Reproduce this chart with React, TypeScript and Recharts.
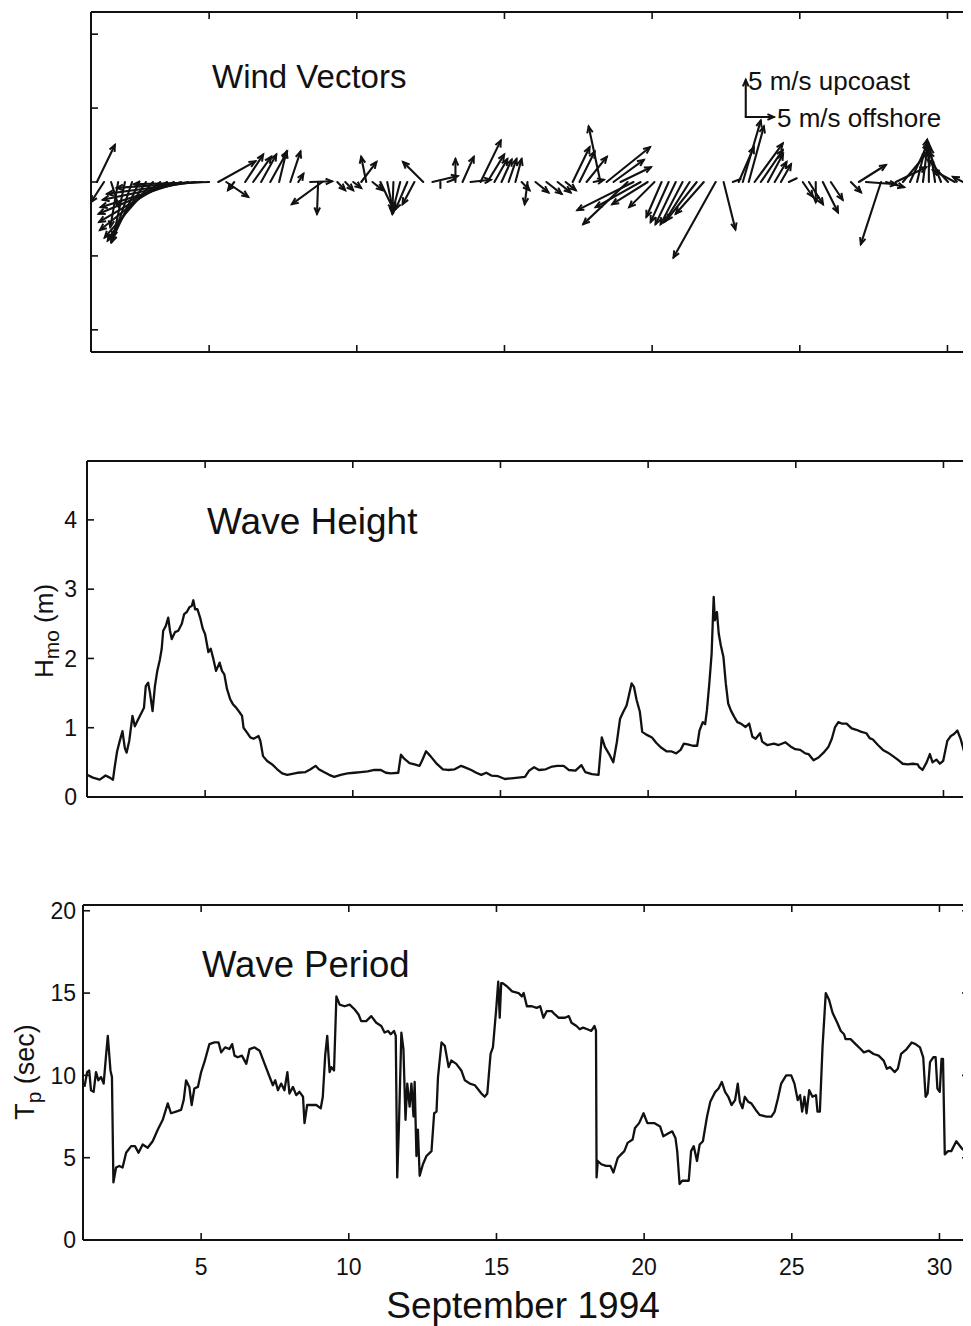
import React from 'react';
import { LineChart, Line, XAxis, YAxis, ReferenceLine } from 'recharts';

// ---------- data ----------
const dayTicks = [5, 10, 15, 20, 25, 30];
const windTicks = [-20, -10, 0, 10, 20];
const heightTicks = [0, 1, 2, 3, 4];
const periodTicks = [0, 5, 10, 15, 20];

// wind vectors: time (day of Sept 1994), offshore (u) and upcoast (v) components, m/s
const windDay = [
  1.20, 1.44, 1.68, 1.92, 2.15, 2.39, 2.63, 2.86, 3.10, 3.34, 3.58, 3.81, 4.05, 4.29, 4.53, 4.76, 5.00,
  5.31, 5.58, 5.85, 6.22, 6.49, 6.76, 7.07, 7.37, 7.75, 8.02,
  8.42, 8.69, 8.83, 9.34, 9.61, 9.88, 10.15, 10.32, 10.53,
  10.80, 11.03, 11.24, 11.47, 11.71, 11.95, 12.25, 12.56, 12.83, 13.07, 13.34, 13.58, 13.85,
  14.19, 14.42, 14.66, 14.90, 15.14, 15.37, 15.58, 15.78, 16.05, 16.42, 16.80, 17.07,
  17.31, 17.54, 17.78, 18.02, 18.25, 18.46, 18.69, 18.93,
  19.17, 19.37, 19.61, 19.85, 20.08, 20.32, 20.56, 20.80, 21.03, 21.27, 21.51, 21.75, 22.15, 22.42,
  22.73, 22.93, 23.07, 23.27, 23.47, 23.68, 23.92, 24.15, 24.36, 24.63,
  25.10, 25.31, 25.54, 25.78, 26.05, 26.73, 27.00, 27.24, 27.75, 27.92,
  28.25, 28.49, 28.73, 28.97, 29.17, 29.37, 29.58, 29.78, 30.02, 30.25, 30.53,
];
const windU = [
  3.2, -2.3, 1.4, -1.4, -2.1, -3.6, -5.0, -6.8, -8.6, -10.7, -12.1, -13.4, -14.3, -15.2, -15.7, -15.2, -13.4,
  6.6, 3.9, -1.1, 3.2, 3.2, 2.7, 3.0, 1.3, 1.8, 0.9,
  3.9, -0.2, -5.4, 1.4, 1.4, 1.4, 2.7, -0.9, 1.8,
  2.3, 1.1, -0.2, -1.4, -2.1, -2.1, -3.6, 4.5, 0, 1.4, 0, 2.0, 3.6,
  3.6, 3.0, 2.3, 1.8, 1.4, 1.1, 1.4, -0.5, 2.3, 2.7, 2.3, 1.8,
  3.0, 2.7, 3.6, 1.8, -2.1, 7.7, 5.4, 5.4,
  -7.9, -10.0, -8.0, -6.3, -4.5, -2.7, -3.2, -3.6, -3.9, -4.5, -5.4, -5.0, -7.5, 2.1,
  1.4, 2.7, 3.2, 2.7, 5.0, 3.9, 2.7, 2.1, 1.8, 1.4,
  1.8, 2.5, 0, 2.7, 2.1, 1.8, 4.8, 5.4, -3.6, 3.2,
  5.4, 4.5, 3.2, 1.8, 0.9, 0, -0.9, -2.1, -3.6, -3.9, -1.8,
];
const windV = [
  5.0, -2.7, -3.4, -6.1, -7.5, -8.1, -8.1, -7.9, -7.5, -6.5, -5.4, -4.3, -3.4, -2.4, -1.6, -0.8, -0.3,
  2.8, -2.0, -1.1, 3.7, 3.4, 3.7, 4.1, 4.1, 4.1, 1.1,
  0.1, -4.3, -3.0, -1.1, -1.1, -0.8, 2.7, 3.4, -1.1,
  -3.7, -4.1, -4.3, -4.1, -3.7, -3.0, 2.7, 0.8, -0.8, 0.4, 3.1, 3.4, 0.3,
  5.6, 3.7, 3.1, 3.0, 3.1, 3.1, -1.1, -3.0, -1.4, -1.6, -1.4, -1.1,
  4.7, 4.1, 3.4, 0.3, 7.5, 4.7, 3.0, 2.0,
  -5.7, -3.8, -3.4, -3.0, -3.4, -4.7, -5.4, -5.7, -5.7, -5.4, -5.2, -4.3, -10.2, -6.4,
  0.4, 4.7, 8.3, 7.5, 5.2, 4.3, 3.8, 2.7, 2.4, 0.5,
  -2.0, -3.0, -2.7, -4.1, -2.4, -1.4, 2.3, -0.3, -8.4, -0.7,
  2.0, 4.1, 5.2, 5.7, 5.4, 5.2, 4.7, 4.1, 3.0, 1.6, 0.7,
];
// scale key (5 m/s arrows)
const keyDay = 23.17;
const keyLevel = 8.8;
const keySpeed = 5;

// significant wave height H_mo (m)
const heightDay = [
  1.0, 1.20, 1.43, 1.63, 1.77, 1.88, 1.94, 2.02, 2.11, 2.20, 2.28, 2.34, 2.43, 2.54, 2.62, 2.73, 2.85, 2.93, 2.99,
  3.07, 3.13, 3.22, 3.30, 3.38, 3.47, 3.53, 3.58, 3.67, 3.75, 3.81, 3.87, 3.98, 4.09, 4.21, 4.29, 4.38, 4.47,
  4.55, 4.60, 4.66, 4.74, 4.83, 4.92, 5.00, 5.11, 5.19, 5.28, 5.37, 5.49, 5.57, 5.65, 5.74, 5.85, 5.94, 6.05,
  6.17, 6.25, 6.30, 6.42, 6.53, 6.64, 6.81, 6.87, 6.96, 7.10, 7.27, 7.44, 7.61, 7.78, 8.12, 8.40, 8.57, 8.74,
  8.85, 9.02, 9.20, 9.37, 9.59, 9.82, 10.05, 10.27, 10.50, 10.73, 10.95, 11.12, 11.29, 11.54, 11.63, 11.75,
  11.92, 12.09, 12.26, 12.34, 12.48, 12.63, 12.82, 13.05, 13.22, 13.45, 13.67, 13.84, 14.01, 14.18, 14.35,
  14.52, 14.69, 14.92, 15.15, 15.37, 15.60, 15.83, 15.97, 16.14, 16.30, 16.53, 16.75, 16.92, 17.14, 17.31,
  17.54, 17.74, 17.87, 18.10, 18.32, 18.43, 18.54, 18.68, 18.82, 18.94, 19.05, 19.16, 19.27, 19.35, 19.44,
  19.52, 19.61, 19.72, 19.80, 19.94, 20.13, 20.28, 20.45, 20.62, 20.78, 20.95, 21.10, 21.21, 21.34, 21.51,
  21.66, 21.74, 21.85, 21.93, 21.99, 22.07, 22.15, 22.22, 22.26, 22.33, 22.39, 22.46, 22.55, 22.63, 22.71,
  22.80, 22.91, 23.02, 23.14, 23.30, 23.42, 23.53, 23.64, 23.79, 23.86, 24.03, 24.26, 24.42, 24.65, 24.82,
  24.98, 25.15, 25.32, 25.43, 25.60, 25.77, 25.94, 26.10, 26.22, 26.33, 26.44, 26.55, 26.72, 26.89, 27.05,
  27.22, 27.39, 27.50, 27.61, 27.78, 27.95, 28.12, 28.29, 28.45, 28.62, 28.79, 28.96, 29.13, 29.18, 29.29,
  29.43, 29.54, 29.63, 29.76, 29.88, 29.99, 30.13, 30.25, 30.36, 30.47, 30.58, 30.69, 30.84, 31.0,
];
const heightVal = [
  0.32, 0.28, 0.25, 0.31, 0.28, 0.25, 0.44, 0.66, 0.81, 0.95, 0.71, 0.64, 0.81, 1.17, 1.02, 1.12, 1.22, 1.29, 1.60,
  1.65, 1.51, 1.24, 1.60, 1.82, 1.99, 2.14, 2.40, 2.47, 2.59, 2.40, 2.28, 2.38, 2.40, 2.50, 2.64, 2.67, 2.74,
  2.76, 2.84, 2.71, 2.71, 2.59, 2.43, 2.35, 2.09, 2.14, 1.99, 1.82, 1.94, 1.82, 1.77, 1.56, 1.41, 1.34, 1.29,
  1.22, 1.17, 1.00, 0.93, 0.86, 0.84, 0.88, 0.81, 0.59, 0.52, 0.47, 0.40, 0.34, 0.32, 0.35, 0.36, 0.40, 0.45,
  0.40, 0.36, 0.32, 0.29, 0.32, 0.34, 0.35, 0.36, 0.37, 0.39, 0.39, 0.35, 0.34, 0.35, 0.61, 0.55,
  0.49, 0.47, 0.45, 0.52, 0.66, 0.59, 0.49, 0.40, 0.39, 0.40, 0.45, 0.42, 0.39, 0.35, 0.32,
  0.35, 0.31, 0.30, 0.26, 0.27, 0.28, 0.29, 0.38, 0.43, 0.39, 0.40, 0.44, 0.45, 0.45, 0.39,
  0.38, 0.46, 0.36, 0.33, 0.32, 0.86, 0.72, 0.62, 0.50, 0.79, 1.13, 1.23, 1.32, 1.47, 1.64,
  1.59, 1.40, 1.23, 0.94, 0.90, 0.86, 0.78, 0.71, 0.66, 0.66, 0.63, 0.68, 0.77, 0.76, 0.74,
  0.74, 0.96, 1.08, 1.05, 1.25, 1.63, 2.07, 2.89, 2.55, 2.67, 2.36, 2.19, 2.02, 1.64, 1.35,
  1.25, 1.16, 1.08, 1.06, 1.01, 1.06, 0.87, 0.84, 0.92, 0.80, 0.75, 0.77, 0.75, 0.79, 0.73,
  0.69, 0.68, 0.63, 0.62, 0.53, 0.57, 0.64, 0.72, 0.84, 1.01, 1.08, 1.06, 1.06, 0.99, 0.97,
  0.94, 0.92, 0.85, 0.83, 0.75, 0.68, 0.64, 0.59, 0.54, 0.48, 0.47, 0.48, 0.47, 0.43, 0.39,
  0.50, 0.62, 0.50, 0.54, 0.48, 0.52, 0.81, 0.88, 0.91, 0.96, 0.84, 0.67, 0.48, 0.32,
];

// peak wave period T_p (sec)
const periodDay = [
  1.05, 1.14, 1.21, 1.27, 1.36, 1.44, 1.52, 1.61, 1.70, 1.78, 1.84, 1.93, 1.98, 2.03, 2.12, 2.23, 2.34, 2.46,
  2.63, 2.76, 2.88, 3.02, 3.19, 3.36, 3.53, 3.70, 3.87, 3.98, 4.15, 4.32, 4.41, 4.49, 4.60, 4.68, 4.77, 4.89,
  5.00, 5.11, 5.28, 5.45, 5.59, 5.68, 5.81, 5.96, 6.05, 6.13, 6.24, 6.38, 6.53, 6.64, 6.81, 6.98, 7.15, 7.32,
  7.43, 7.51, 7.60, 7.71, 7.82, 7.92, 7.99, 8.11, 8.22, 8.33, 8.45, 8.50, 8.59, 8.73, 8.90, 9.05, 9.12, 9.20,
  9.27, 9.35, 9.41, 9.50, 9.58, 9.69, 9.86, 10.03, 10.20, 10.33, 10.42, 10.59, 10.76, 10.93, 11.10, 11.21,
  11.33, 11.42, 11.53, 11.59, 11.64, 11.70, 11.78, 11.85, 11.92, 11.98, 12.06, 12.12, 12.19, 12.23, 12.29,
  12.34, 12.40, 12.51, 12.63, 12.80, 12.89, 12.97, 13.02, 13.14, 13.25, 13.38, 13.47, 13.64, 13.81, 13.93,
  14.10, 14.27, 14.49, 14.60, 14.69, 14.80, 14.88, 14.99, 15.06, 15.11, 15.16, 15.21, 15.36, 15.53, 15.75,
  15.86, 15.92, 16.03, 16.20, 16.36, 16.48, 16.59, 16.70, 16.87, 16.98, 17.11, 17.32, 17.45, 17.54, 17.71,
  17.82, 17.93, 18.08, 18.21, 18.32, 18.37, 18.39, 18.43, 18.55, 18.71, 18.86, 18.96, 19.11, 19.22, 19.33,
  19.44, 19.61, 19.69, 19.83, 19.98, 20.11, 20.34, 20.54, 20.65, 20.84, 20.95, 21.06, 21.12, 21.20, 21.29,
  21.51, 21.59, 21.68, 21.79, 21.88, 21.99, 22.13, 22.24, 22.41, 22.52, 22.63, 22.74, 22.85, 22.96, 23.08,
  23.17, 23.24, 23.33, 23.41, 23.52, 23.63, 23.78, 23.91, 24.14, 24.31, 24.42, 24.53, 24.64, 24.81, 24.98,
  25.09, 25.20, 25.28, 25.35, 25.43, 25.50, 25.59, 25.70, 25.82, 25.87, 25.95, 26.04, 26.15, 26.26, 26.38,
  26.54, 26.66, 26.77, 26.82, 26.99, 27.16, 27.33, 27.44, 27.61, 27.77, 27.94, 28.11, 28.22, 28.33, 28.48,
  28.59, 28.70, 28.89, 29.06, 29.19, 29.34, 29.45, 29.53, 29.60, 29.68, 29.79, 29.87, 29.93, 30.01, 30.07,
  30.12, 30.18, 30.29, 30.40, 30.57, 30.74, 30.91, 31.0,
];
const periodVal = [
  9.3, 10.2, 10.3, 9.1, 9.0, 10.2, 9.7, 9.9, 9.5, 11.2, 12.4, 10.3, 9.9, 3.5, 4.4, 4.5, 4.4, 5.3,
  5.7, 5.7, 5.3, 5.8, 5.6, 6.0, 6.7, 7.3, 8.3, 7.7, 7.8, 7.9, 8.5, 9.7, 9.3, 8.2, 9.2, 9.3,
  10.2, 10.8, 11.9, 12.0, 12.0, 11.4, 11.7, 11.6, 11.9, 11.2, 11.1, 11.2, 10.7, 11.6, 11.7, 11.5, 10.7, 9.9,
  9.4, 9.7, 9.1, 9.5, 9.1, 10.2, 8.9, 9.3, 8.8, 9.0, 8.7, 7.1, 8.2, 8.2, 8.2, 8.0, 8.7, 11.2,
  12.4, 10.2, 10.5, 10.3, 14.8, 14.3, 14.2, 14.3, 14.0, 13.7, 13.3, 13.3, 13.6, 13.2, 13.0, 12.6,
  12.7, 12.5, 12.7, 12.4, 3.8, 7.1, 12.6, 11.6, 7.3, 9.5, 8.1, 9.5, 7.5, 9.6, 5.1,
  6.7, 3.9, 4.6, 5.1, 5.4, 7.7, 7.8, 9.9, 12.0, 11.8, 10.5, 10.9, 10.7, 10.3, 9.7,
  9.5, 9.4, 8.9, 8.7, 8.9, 11.3, 11.7, 14.0, 15.7, 13.5, 15.6, 15.6, 15.4, 15.1, 15.0,
  14.8, 15.0, 14.2, 14.2, 14.1, 14.2, 13.5, 13.9, 13.9, 13.7, 13.5, 13.5, 13.6, 13.2, 13.0,
  12.8, 12.9, 12.8, 12.7, 13.0, 12.7, 3.8, 4.8, 4.6, 4.5, 4.5, 4.1, 5.0, 5.2, 5.4,
  5.9, 6.1, 6.8, 7.1, 7.7, 7.1, 7.1, 6.9, 6.3, 6.5, 6.6, 6.2, 5.4, 3.4, 3.6,
  3.6, 5.4, 5.7, 4.8, 5.8, 6.0, 7.5, 8.4, 9.0, 9.2, 9.6, 9.0, 8.7, 8.2, 8.5,
  9.5, 8.4, 8.0, 8.7, 8.4, 8.3, 7.9, 7.6, 7.5, 7.5, 7.8, 8.6, 9.5, 10.0, 10.0,
  9.5, 8.5, 8.8, 7.8, 8.7, 7.7, 9.1, 8.7, 8.8, 7.8, 7.8, 11.7, 15.0, 14.6, 13.8,
  13.2, 12.7, 12.5, 12.2, 12.2, 11.9, 11.6, 11.4, 11.5, 11.3, 11.2, 10.9, 10.4, 10.5, 10.2,
  10.4, 11.3, 11.6, 12.0, 11.9, 11.7, 11.1, 8.7, 8.9, 10.8, 11.1, 11.1, 9.2, 9.0, 11.0,
  11.0, 5.2, 5.4, 5.4, 6.0, 5.6, 5.3, 5.1,
];

// ---------- tables for the library ----------
const windData = windDay.map((t, i) => ({ t, u: windU[i], v: windV[i] }));
const heightData = heightDay.map((t, i) => ({ t, h: heightVal[i] }));
const periodData = periodDay.map((t, i) => ({ t, p: periodVal[i] }));

// ---------- styling ----------
const FONT = "'Liberation Sans', Arial, Helvetica, sans-serif";
const INK = '#111';
const DAY_PER_MS = 0.19; // horizontal length of 1 m/s, in days
const tickText = { fontSize: 23, fill: INK, fontFamily: FONT };
const axisLine = { stroke: INK, strokeWidth: 2 };
const tickLine = { stroke: INK, strokeWidth: 1.6 };
const NoTick = () => <g />;

function VectorShape(props: any) {
  const { x1, y1, x2, y2 } = props;
  if (![x1, y1, x2, y2].every((n) => Number.isFinite(n))) return <g />;
  const dx = x2 - x1;
  const dy = y2 - y1;
  const len = Math.hypot(dx, dy);
  let head = null;
  if (len > 9) {
    const a = Math.atan2(dy, dx);
    const hl = 7;
    const ha = 0.42;
    const ax = x2 - hl * Math.cos(a - ha);
    const ay = y2 - hl * Math.sin(a - ha);
    const bx = x2 - hl * Math.cos(a + ha);
    const by = y2 - hl * Math.sin(a + ha);
    head = (
      <path d={`M${ax},${ay}L${x2},${y2}L${bx},${by}`} fill="none" stroke={INK} strokeWidth={2} strokeLinejoin="miter" />
    );
  }
  return (
    <g>
      <line x1={x1} y1={y1} x2={x2} y2={y2} stroke={INK} strokeWidth={2.1} strokeLinecap="round" />
      {head}
    </g>
  );
}

function Panel(props: {
  top: number;
  height: number;
  marginTop: number;
  marginRight: number;
  yWidth: number;
  bottomH: number;
  yDomain: number[];
  yTicks: number[];
  showXLabels: boolean;
  showYLabels: boolean;
  yTickMargin: number;
  data: any[];
  children?: React.ReactNode;
}) {
  const { top, height, marginTop, marginRight, yWidth, bottomH, yDomain, yTicks, showXLabels, showYLabels, yTickMargin, data, children } = props;
  return (
    <div style={{ position: 'absolute', left: 0, top }}>
      <LineChart
        width={1000}
        height={height}
        data={data}
        margin={{ top: marginTop, right: marginRight, left: 0, bottom: 0 }}
      >
        {/* labelled axes (outer) */}
        <XAxis
          xAxisId="x"
          dataKey="t"
          type="number"
          domain={[1, 31]}
          allowDataOverflow
          ticks={dayTicks}
          interval={0}
          height={bottomH}
          tickSize={0}
          tickMargin={19}
          axisLine={axisLine}
          tickLine={false}
          tick={showXLabels ? tickText : NoTick}
        />
        <YAxis
          yAxisId="y"
          type="number"
          domain={yDomain}
          allowDataOverflow
          ticks={yTicks}
          interval={0}
          width={yWidth}
          tickSize={0}
          tickMargin={yTickMargin}
          axisLine={axisLine}
          tickLine={false}
          tick={showYLabels ? tickText : NoTick}
        />
        {/* inward tick marks on all four sides */}
        <XAxis
          xAxisId="xb"
          mirror
          dataKey="t"
          type="number"
          domain={[1, 31]}
          allowDataOverflow
          ticks={dayTicks}
          interval={0}
          height={1}
          tickSize={7}
          axisLine={false}
          tickLine={tickLine}
          tick={NoTick}
        />
        <XAxis
          xAxisId="xt"
          orientation="top"
          mirror
          dataKey="t"
          type="number"
          domain={[1, 31]}
          allowDataOverflow
          ticks={dayTicks}
          interval={0}
          height={1}
          tickSize={7}
          axisLine={axisLine}
          tickLine={tickLine}
          tick={NoTick}
        />
        <YAxis
          yAxisId="yl"
          mirror
          type="number"
          domain={yDomain}
          allowDataOverflow
          ticks={yTicks}
          interval={0}
          width={1}
          tickSize={7}
          axisLine={false}
          tickLine={tickLine}
          tick={NoTick}
        />
        <YAxis
          yAxisId="yr"
          orientation="right"
          mirror
          type="number"
          domain={yDomain}
          allowDataOverflow
          ticks={yTicks}
          interval={0}
          width={1}
          tickSize={7}
          axisLine={axisLine}
          tickLine={tickLine}
          tick={NoTick}
        />
        {children}
      </LineChart>
    </div>
  );
}

const textBase: React.CSSProperties = {
  position: 'absolute',
  fontFamily: FONT,
  color: INK,
  lineHeight: 1,
  whiteSpace: 'nowrap',
};

export default function App() {
  const windRefs = windData.map((d, i) => (
    <ReferenceLine
      key={`w${i}`}
      xAxisId="x"
      yAxisId="y"
      ifOverflow="visible"
      segment={[
        { x: d.t, y: 0 },
        { x: d.t + d.u * DAY_PER_MS, y: d.v },
      ]}
      shape={VectorShape}
    />
  ));
  return (
    <div style={{ position: 'relative', width: 963, height: 1318, overflow: 'hidden', background: '#fff' }}>
      {/* Panel 1: wind vectors */}
      <Panel
        top={0}
        height={354}
        marginTop={4}
        marginRight={31}
        yWidth={83}
        bottomH={10}
        yDomain={[-23, 23]}
        yTicks={windTicks}
        showXLabels={false}
        showYLabels={false}
        yTickMargin={10}
        data={windData}
      >
        {windRefs}
        <ReferenceLine
          xAxisId="x"
          yAxisId="y"
          ifOverflow="visible"
          segment={[
            { x: keyDay, y: keyLevel },
            { x: keyDay, y: keyLevel + keySpeed },
          ]}
          shape={VectorShape}
        />
        <ReferenceLine
          xAxisId="x"
          yAxisId="y"
          ifOverflow="visible"
          segment={[
            { x: keyDay, y: keyLevel },
            { x: keyDay + keySpeed * DAY_PER_MS, y: keyLevel },
          ]}
          shape={VectorShape}
        />
      </Panel>

      {/* Panel 2: wave height */}
      <Panel
        top={440}
        height={369}
        marginTop={13}
        marginRight={35}
        yWidth={79}
        bottomH={20}
        yDomain={[0, 4.85]}
        yTicks={heightTicks}
        showXLabels={false}
        showYLabels={true}
        yTickMargin={10}
        data={heightData}
      >
        <Line
          xAxisId="x"
          yAxisId="y"
          type="linear"
          dataKey="h"
          stroke={INK}
          strokeWidth={2.3}
          strokeLinejoin="round"
          dot={false}
          activeDot={false}
          isAnimationActive={false}
        />
      </Panel>

      {/* Panel 3: wave period */}
      <Panel
        top={880}
        height={392}
        marginTop={17}
        marginRight={39}
        yWidth={75}
        bottomH={40}
        yDomain={[0, 20.35]}
        yTicks={periodTicks}
        showXLabels={true}
        showYLabels={true}
        yTickMargin={7}
        data={periodData}
      >
        <Line
          xAxisId="x"
          yAxisId="y"
          type="linear"
          dataKey="p"
          stroke={INK}
          strokeWidth={2.3}
          strokeLinejoin="round"
          dot={false}
          activeDot={false}
          isAnimationActive={false}
        />
      </Panel>

      {/* titles */}
      <div style={{ ...textBase, left: 204, top: 52, fontSize: 33 }}>Wind Vectors</div>
      <div style={{ ...textBase, left: 199, top: 495, fontSize: 37 }}>Wave Height</div>
      <div style={{ ...textBase, left: 194, top: 939, fontSize: 36.5 }}>Wave Period</div>

      {/* wind key labels */}
      <div style={{ ...textBase, left: 740, top: 60, fontSize: 26 }}>5 m/s upcoast</div>
      <div style={{ ...textBase, left: 769, top: 97, fontSize: 26 }}>5 m/s offshore</div>

      {/* axis titles */}
      <div
        style={{
          ...textBase,
          left: 36,
          top: 623,
          fontSize: 26,
          transform: 'translate(-50%, -50%) rotate(-90deg)',
        }}
      >
        H<span style={{ fontSize: 21, position: 'relative', top: 6 }}>mo</span> (m)
      </div>
      <div
        style={{
          ...textBase,
          left: 17,
          top: 1064,
          fontSize: 27,
          transform: 'translate(-50%, -50%) rotate(-90deg)',
        }}
      >
        T<span style={{ fontSize: 21, position: 'relative', top: 7 }}>p</span> (sec)
      </div>
      <div style={{ ...textBase, left: 315, width: 400, textAlign: 'center', top: 1279, fontSize: 37 }}>
        September 1994
      </div>
    </div>
  );
}
